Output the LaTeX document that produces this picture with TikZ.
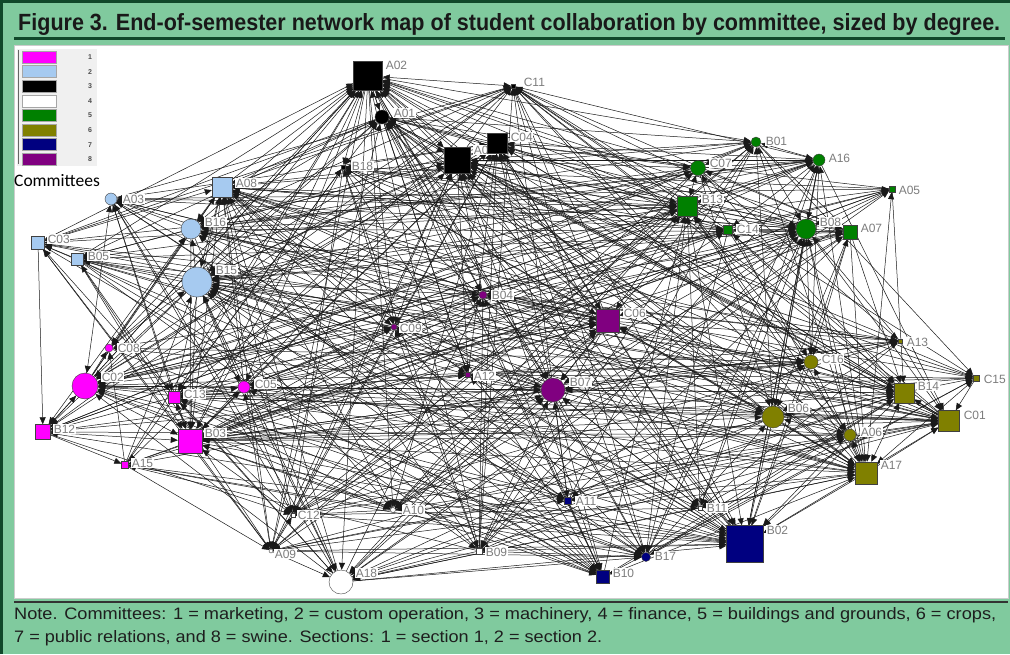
\documentclass[tikz,border=0pt]{standalone}
\usepackage{fontspec}
\setmainfont{Liberation Sans}
\newfontfamily\carl{Carlito}
\usetikzlibrary{arrows.meta}
\definecolor{bggreen}{RGB}{128,202,158}
\definecolor{dkgreen}{RGB}{16,72,42}
\definecolor{cmag}{RGB}{255,0,255}
\definecolor{clblue}{RGB}{166,202,240}
\definecolor{cgreen}{RGB}{0,128,0}
\definecolor{colive}{RGB}{128,128,0}
\definecolor{cnavy}{RGB}{0,0,128}
\definecolor{cpurple}{RGB}{128,0,128}
\definecolor{lblgray}{RGB}{125,125,125}
\definecolor{notetext}{RGB}{30,30,30}
\pgfdeclarelayer{back}
\pgfdeclarelayer{bg}
\pgfsetlayers{back,bg,main}
\newcommand\nd[7]{%
  \node[#4] (#1) at (#2,#3) {};
  \node[lbl] (#1-l) at (#5,#6) {#1};
  \expandafter\gdef\csname act@#1\endcsname{#7}%
}
\def\nodelist{A02,C11,A01,A04,C04,B18,A03,A08,B16,C03,B05,B15,B04,C09,C06,A12,B07,C08,C02,C13,C05,B12,B03,A15,B01,A16,C07,A05,B13,C14,B08,A07,A13,C16,C15,B14,B06,C01,A06,A17,C12,A10,A09,A18,B09,A11,B11,B02,B17,B10}
\def\edgek{1.35}
\begin{document}
\begin{tikzpicture}[x=1pt,y=-1pt,
  sq/.style={rectangle, draw=black!75, line width=0.4pt, inner sep=0pt, minimum size=#1 pt},
  ci/.style={circle, draw=black!75, line width=0.4pt, inner sep=0pt, minimum size=#1 pt},
  lbl/.style={fill=white, inner sep=0.6pt, text=lblgray, anchor=west, font=\fontsize{12}{12}\selectfont},
  edgeone/.style={draw=black!90, line width=0.5pt, -{Triangle[length=7pt,width=6pt]}},
  edgetwo/.style={draw=black!90, line width=0.5pt, {Triangle[length=7pt,width=6pt]}-{Triangle[length=7pt,width=6pt]}},
  legsw/.style={rectangle, draw=gray!70, line width=0.4pt, minimum width=34pt, minimum height=12pt, inner sep=0pt},
  legnum/.style={inner sep=0pt, text=black!70, font=\bfseries\fontsize{7}{7}\selectfont}
]
\useasboundingbox (0,0) rectangle (1010,654);
\begin{pgfonlayer}{back}
\fill[bggreen] (0,0) rectangle (1010,654);
\draw[dkgreen, line width=3pt] (1.5,654) -- (1.5,1.5) -- (1010,1.5);
\draw[dkgreen, line width=2.5pt] (14,38.5) -- (1005,38.5);
\draw[black!80, line width=1.3pt] (14,602) -- (1008,602);
\fill[white] (14,45) rectangle (1008,598);
\draw[gray!40, line width=0.5pt] (14,45) rectangle (1008,598);
\fill[gray!12] (17,49) rectangle (97,166);
\draw[black!60, line width=1.5pt] (18.5,50) -- (18.5,164);
\end{pgfonlayer}

% title
\node[anchor=base west, inner sep=0pt, text=black!90] (title) at (18,30)
  {\resizebox{982pt}{17pt}{\bfseries Figure 3. End-of-semester network map of student collaboration by committee, sized by degree.}};

% legend
\foreach \c [count=\k] in {cmag,clblue,black,white,cgreen,colive,cnavy,cpurple} {
  \pgfmathsetmacro\yy{57+14.6*(\k-1)}
  \node[legsw, fill=\c] (k\k) at (39.5,\yy) {};
  \node[legnum] (kn\k) at (90,\yy) {\k};
}
\node[anchor=base west, inner sep=0pt, font=\carl\fontsize{17.5}{18}\selectfont] (comm) at (14,186) {Committees};

% nodes
\nd{A02}{368}{76}{sq=29,fill=black}{385}{65}{1.0}
\nd{C11}{513}{86}{sq=4,fill=black}{523}{82}{0.55}
\nd{A01}{382}{117}{ci=14,fill=black}{393}{113}{0.6}
\nd{A04}{457}{160}{sq=26,fill=black}{473}{150}{0.95}
\nd{C04}{497}{143}{sq=20,fill=black}{510}{137}{0.7}
\nd{B18}{343}{167}{sq=4,fill=black}{351}{166}{0.45}
\nd{A03}{111}{199}{ci=12,fill=clblue}{122}{199}{0.55}
\nd{A08}{222}{187}{sq=20,fill=clblue}{235}{183}{0.75}
\nd{B16}{191}{229}{ci=20,fill=clblue}{204}{222}{0.65}
\nd{C03}{38}{243}{sq=13,fill=clblue}{47}{239}{0.5}
\nd{B05}{77}{259}{sq=12,fill=clblue}{87}{256}{0.5}
\nd{B15}{197}{282}{ci=30,fill=clblue}{215}{270}{0.9}
\nd{B04}{483}{295}{ci=8,fill=cpurple}{491}{295}{0.45}
\nd{C09}{394}{327}{ci=6,fill=cpurple}{399}{328}{0.35}
\nd{C06}{608}{321}{sq=23,fill=cpurple}{623}{313}{0.75}
\nd{A12}{468}{375}{sq=5,fill=cpurple}{473}{376}{0.35}
\nd{B07}{553}{390}{ci=24,fill=cpurple}{569}{382}{0.75}
\nd{C08}{109}{348}{ci=8,fill=cmag}{117}{348}{0.4}
\nd{C02}{85}{386}{ci=26,fill=cmag}{101}{377}{0.75}
\nd{C13}{174}{397}{sq=12,fill=cmag}{183}{394}{0.55}
\nd{C05}{244}{387}{ci=12,fill=cmag}{254}{384}{0.5}
\nd{B12}{43}{432}{sq=15,fill=cmag}{53}{429}{0.55}
\nd{B03}{190}{441}{sq=24,fill=cmag}{204}{433}{0.8}
\nd{A15}{125}{465}{sq=7,fill=cmag}{131}{463}{0.4}
\nd{B01}{756}{142}{ci=10,fill=cgreen}{765}{141}{0.5}
\nd{A16}{819}{160}{ci=12,fill=cgreen}{828}{158}{0.5}
\nd{C07}{698}{168}{ci=15,fill=cgreen}{709}{163}{0.6}
\nd{A05}{892}{189}{sq=6,fill=cgreen}{898}{190}{0.4}
\nd{B13}{687}{206}{sq=20,fill=cgreen}{701}{199}{0.75}
\nd{C14}{728}{230}{sq=9,fill=cgreen}{736}{229}{0.5}
\nd{B08}{806}{229}{ci=20,fill=cgreen}{819}{222}{0.7}
\nd{A07}{850}{232}{sq=14,fill=cgreen}{860}{228}{0.6}
\nd{A13}{900}{341}{sq=4,fill=colive}{906}{342}{0.35}
\nd{C16}{811}{362}{ci=14,fill=colive}{821}{359}{0.55}
\nd{C15}{976}{378}{sq=6,fill=colive}{983}{379}{0.4}
\nd{B14}{904}{393}{sq=20,fill=colive}{917}{386}{0.7}
\nd{B06}{773}{417}{ci=22,fill=colive}{787}{408}{0.7}
\nd{C01}{949}{421}{sq=21,fill=colive}{963}{415}{0.7}
\nd{A06}{850}{435}{ci=12,fill=colive}{860}{432}{0.5}
\nd{A17}{866}{473}{sq=22,fill=colive}{880}{465}{0.8}
\nd{C12}{293}{515}{sq=4,fill=white}{297}{515}{0.45}
\nd{A10}{393}{510}{ci=5,fill=white}{402}{510}{0.5}
\nd{A09}{271}{551}{ci=4,fill=white}{274}{554}{0.4}
\nd{A18}{341}{582}{ci=24,fill=white}{355}{573}{0.7}
\nd{B09}{479}{551}{sq=6,fill=white}{485}{552}{0.5}
\nd{A11}{568}{501}{sq=7,fill=cnavy}{575}{501}{0.45}
\nd{B11}{700}{508}{sq=4,fill=white}{706}{508}{0.45}
\nd{B02}{745}{544}{sq=37,fill=cnavy}{766}{530}{0.9}
\nd{B17}{646}{557}{ci=9,fill=cnavy}{654}{556}{0.5}
\nd{B10}{603}{577}{sq=13,fill=cnavy}{612}{573}{0.5}

% connectors
\begin{pgfonlayer}{bg}
\pgfmathsetseed{2024}
\foreach \a [count=\i] in \nodelist {
  \foreach \b [count=\j] in \nodelist {
    \ifnum\j>\i\relax
      \edef\ai{\csname act@\a\endcsname}%
      \edef\bi{\csname act@\b\endcsname}%
      \pgfmathsetmacro\p{\edgek*\ai*\bi}%
      \pgfmathsetmacro\r{rnd}%
      \ifdim\r pt<\p pt
        \pgfmathsetmacro\d{rnd}%
        \ifdim\d pt<0.4pt
          \draw[edgeone] (\a) -- (\b);
        \else
          \ifdim\d pt<0.8pt
            \draw[edgeone] (\b) -- (\a);
          \else
            \draw[edgetwo] (\a) -- (\b);
          \fi
        \fi
      \fi
    \fi
  }
}
\end{pgfonlayer}

% note
\node[anchor=base west, inner sep=0pt, text=notetext] (note1) at (14,619)
  {\resizebox{982pt}{12pt}{Note. Committees: 1 = marketing, 2 = custom operation, 3 = machinery, 4 = finance, 5 = buildings and grounds, 6 = crops,}};
\node[anchor=base west, inner sep=0pt, text=notetext] (note2) at (14,642)
  {\resizebox{588pt}{12pt}{7 = public relations, and 8 = swine. Sections: 1 = section 1, 2 = section 2.}};
\end{tikzpicture}
\end{document}
